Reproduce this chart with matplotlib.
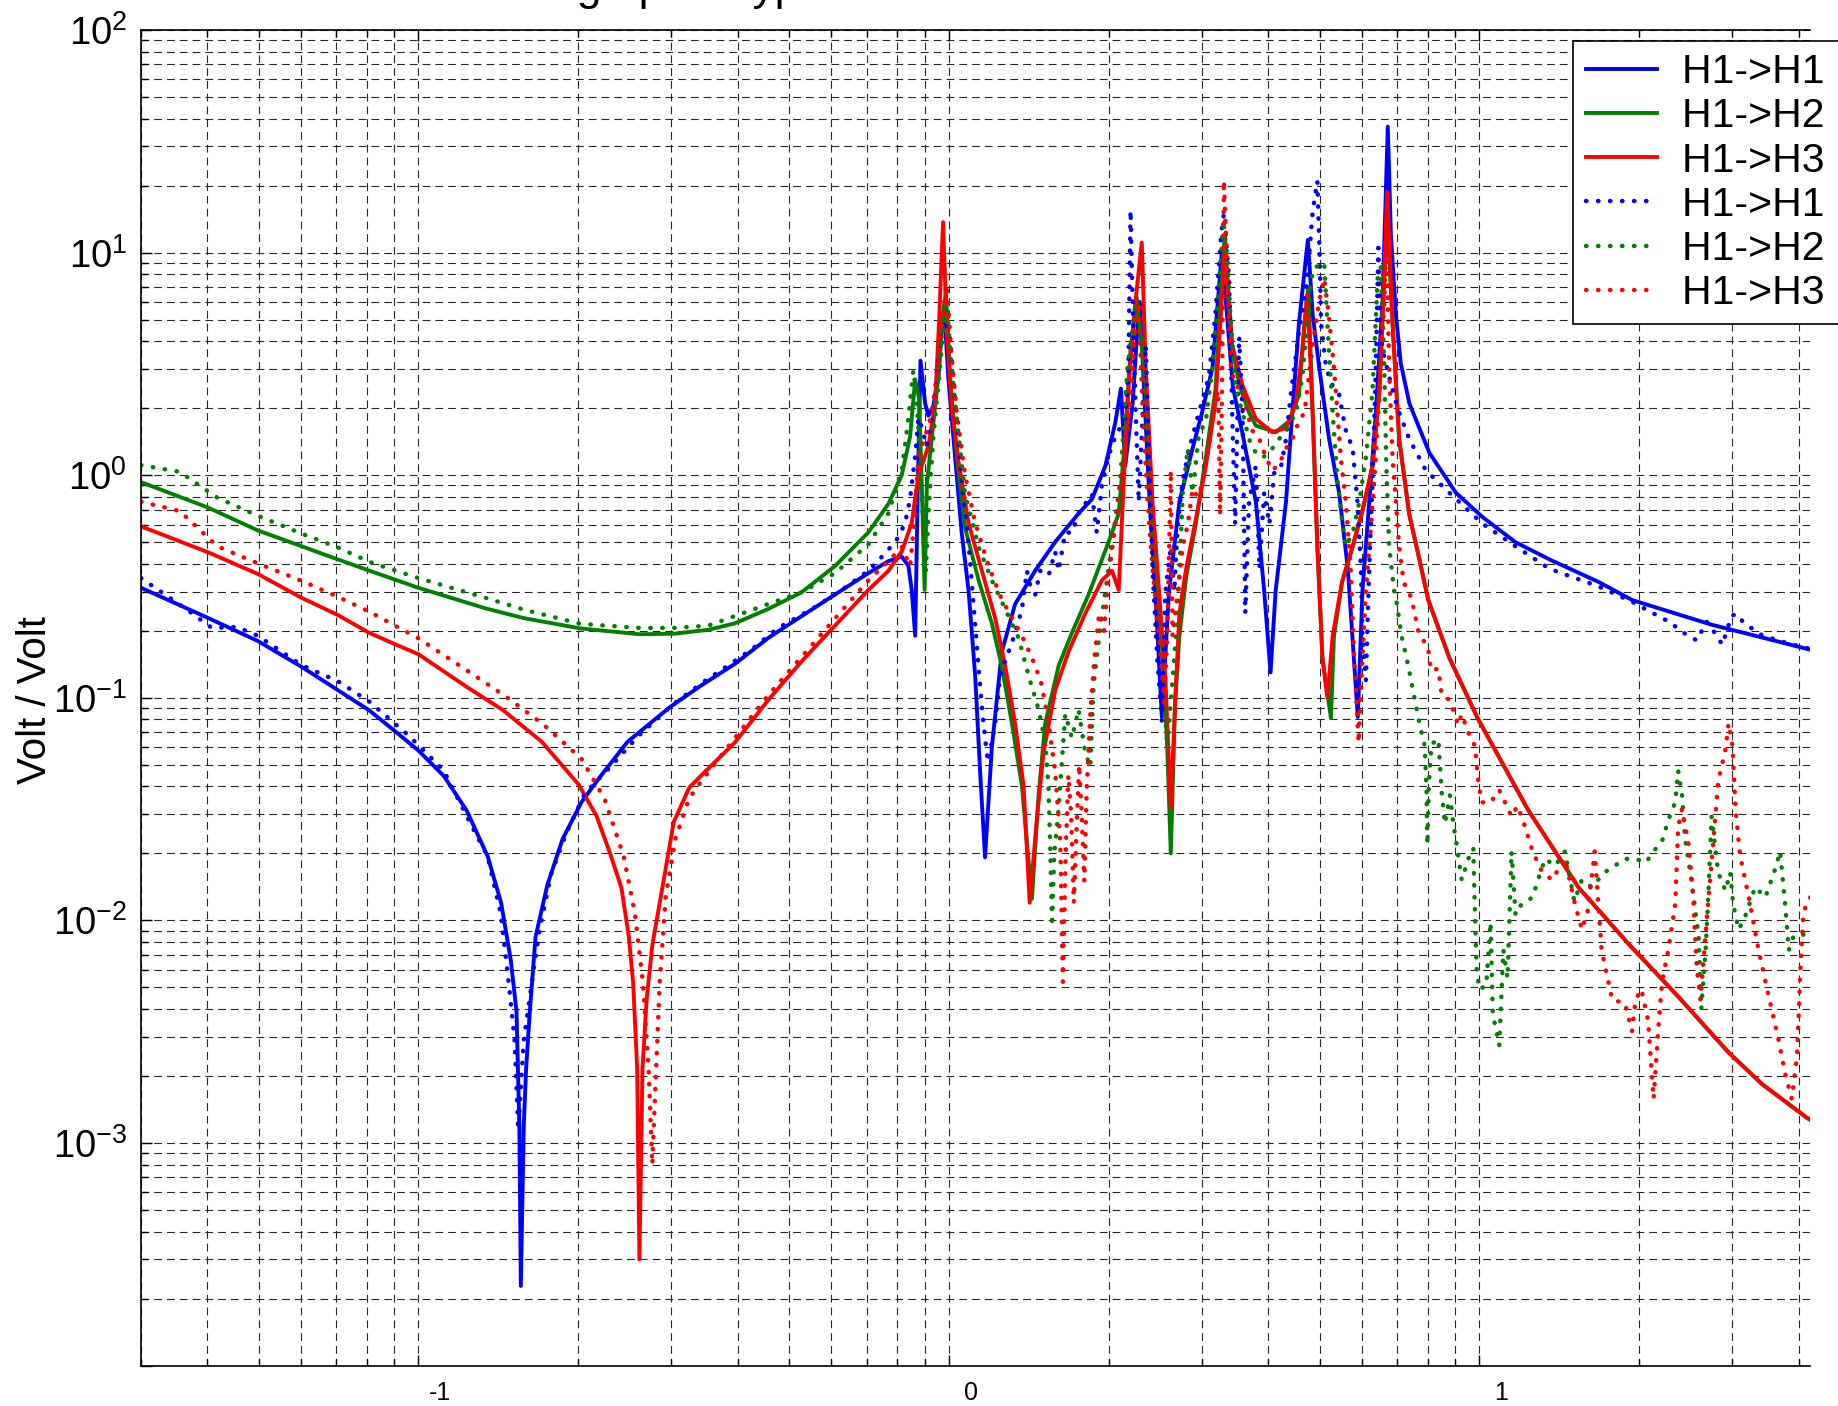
import matplotlib
matplotlib.use('Agg')
import matplotlib.pyplot as plt
from matplotlib.ticker import LogLocator, NullFormatter, FixedLocator, FixedFormatter
from matplotlib.transforms import ScaledTranslation

plt.rcParams['font.family'] = ['Liberation Sans', 'DejaVu Sans']
plt.rcParams['mathtext.fontset'] = 'custom'
plt.rcParams['mathtext.rm'] = 'Liberation Sans'

title = 'Transfer functions of 2 stage prototype from actuator H1 to horizontal interferometer sensors GS13'
labels = ['H1->H1', 'H1->H2', 'H1->H3', 'H1->H1', 'H1->H2', 'H1->H3']
x_tick_vals = [0.1, 1, 10]
x_tick_text = ['-1', '0', '1']
y_exponents = [-4, -3, -2, -1, 0, 1, 2]
y_tick_text = ['', r'$\mathregular{10^{-3}}$', r'$\mathregular{10^{-2}}$', r'$\mathregular{10^{-1}}$',
               r'$\mathregular{10^{0}}$', r'$\mathregular{10^{1}}$', r'$\mathregular{10^{2}}$']

# ---- model (solid) ----
f_h11_mod = [0.030, 0.0402, 0.0498, 0.0603, 0.0706, 0.0807, 0.0899, 0.100, 0.1117, 0.1233,
             0.1351, 0.1432, 0.1493, 0.1531, 0.1550, 0.1560, 0.1580, 0.1596, 0.1622, 0.1663,
             0.175, 0.187, 0.203, 0.2206, 0.248, 0.298, 0.342, 0.395, 0.457, 0.528,
             0.610, 0.705, 0.769, 0.815, 0.839, 0.851, 0.864, 0.874, 0.884, 0.902,
             0.915, 0.935, 0.956, 0.970, 0.980, 0.998, 1.027, 1.057, 1.089, 1.121,
             1.145, 1.170, 1.205, 1.258, 1.333, 1.454, 1.586, 1.756, 1.861, 1.972,
             2.059, 2.110, 2.150, 2.22, 2.27, 2.29, 2.39, 2.45, 2.52, 2.60,
             2.72, 2.88, 3.0, 3.14, 3.27, 3.43, 3.58, 3.79, 3.93, 4.04,
             4.13, 4.32, 4.44, 4.57, 4.75, 4.85, 4.99, 5.21, 5.44, 5.65,
             5.90, 6.02, 6.20, 6.38, 6.57, 6.72, 6.81, 6.96, 7.11, 7.38,
             8.05, 9.03, 10.15, 11.7, 13.6, 16.8, 19.4, 27.4, 41.4, 48.0]
m_h11_mod = [0.312, 0.228, 0.180, 0.1375, 0.108, 0.088, 0.0715, 0.058, 0.0445, 0.0312,
             0.0194, 0.0120, 0.00665, 0.0039, 0.00119, 0.000228, 0.0012, 0.00215, 0.0039, 0.00844,
             0.0144, 0.0232, 0.034, 0.0445, 0.0635, 0.0908, 0.114, 0.142, 0.186, 0.233,
             0.291, 0.363, 0.411, 0.431, 0.391, 0.305, 0.190, 0.906, 3.27, 2.10,
             1.85, 2.05, 2.82, 4.86, 5.6, 2.69, 1.22, 0.553, 0.305, 0.1256,
             0.0468, 0.0192, 0.0598, 0.1607, 0.2636, 0.372, 0.501, 0.673, 0.781, 1.10,
             1.72, 2.45, 1.10, 2.10, 4.8, 6.0, 0.76, 0.30, 0.082, 0.30,
             0.76, 1.32, 1.91, 3.04, 10.0, 2.5, 1.52, 0.76, 0.302, 0.13,
             0.302, 0.76, 1.91, 4.82, 11.4, 5.28, 3.04, 1.45, 0.834, 0.38,
             0.082, 0.302, 0.76, 1.91, 6.07, 36.8, 12.1, 5.28, 3.18, 2.10,
             1.26, 0.834, 0.647, 0.50, 0.417, 0.331, 0.275, 0.213, 0.166, 0.152]

f_h12_mod = [0.030, 0.0401, 0.0498, 0.0603, 0.0706, 0.0807, 0.100, 0.134, 0.158, 0.202,
             0.261, 0.303, 0.352, 0.395, 0.457, 0.528, 0.610, 0.705, 0.769, 0.815,
             0.845, 0.864, 0.879, 0.889, 0.900, 0.909, 0.929, 0.956, 0.977, 0.987,
             1.006, 1.035, 1.073, 1.138, 1.205, 1.258, 1.315, 1.373, 1.434, 1.476,
             1.519, 1.610, 1.706, 1.834, 2.00, 2.09, 2.15, 2.20, 2.26, 2.35,
             2.42, 2.53, 2.58, 2.62, 2.67, 2.72, 2.80, 2.92, 3.05, 3.18,
             3.31, 3.42, 3.53, 3.68, 3.79, 4.13, 4.38, 4.57, 4.68, 4.76,
             4.85, 4.95, 5.06, 5.25, 5.32, 5.51, 5.77, 6.02, 6.29, 6.48,
             6.59, 6.70]
m_h12_mod = [0.931, 0.716, 0.565, 0.479, 0.418, 0.373, 0.312, 0.252, 0.228, 0.205,
             0.193, 0.194, 0.202, 0.216, 0.251, 0.298, 0.391, 0.553, 0.743, 1.0,
             1.49, 2.69, 2.2, 0.906, 0.305, 0.906, 1.49, 2.82, 5.6, 6.5,
             2.69, 1.22, 0.58, 0.337, 0.216, 0.139, 0.0766, 0.0403, 0.0125, 0.0365,
             0.0766, 0.139, 0.196, 0.291, 0.501, 0.673, 1.49, 3.66, 6.3, 2.5,
             0.7, 0.151, 0.06, 0.020, 0.0955, 0.19, 0.347, 0.603, 1.2, 2.41,
             12.0, 3.8, 2.52, 1.91, 1.67, 1.56, 1.75, 2.3, 4.82, 7.0,
             1.91, 0.479, 0.151, 0.081, 0.19, 0.331, 0.479, 0.693, 1.1, 2.41,
             6.07, 15.0]

f_h13_mod = [0.030, 0.0401, 0.0498, 0.0603, 0.0706, 0.0807, 0.0899, 0.100, 0.1233, 0.1444,
             0.1708, 0.2006, 0.2167, 0.2298, 0.2414, 0.2493, 0.254, 0.2585, 0.261, 0.2645,
             0.2693, 0.276, 0.2877, 0.303, 0.324, 0.342, 0.395, 0.457, 0.528, 0.61,
             0.705, 0.769, 0.815, 0.851, 0.876, 0.915, 0.942, 0.959, 0.975, 0.991,
             1.013, 1.042, 1.089, 1.154, 1.223, 1.277, 1.333, 1.383, 1.42, 1.465,
             1.508, 1.586, 1.681, 1.807, 1.943, 2.03, 2.09, 2.135, 2.18, 2.246,
             2.31, 2.35, 2.42, 2.49, 2.56, 2.62, 2.67, 2.72, 2.80, 2.92,
             3.05, 3.18, 3.31, 3.42, 3.58, 3.79, 4.07, 4.32, 4.51, 4.64,
             4.74, 4.85, 4.95, 5.06, 5.17, 5.29, 5.51, 5.77, 6.02, 6.29,
             6.48, 6.59, 6.70]
m_h13_mod = [0.589, 0.451, 0.36, 0.281, 0.235, 0.196, 0.175, 0.157, 0.112, 0.088,
             0.0635, 0.0407, 0.0294, 0.020, 0.014, 0.00844, 0.00525, 0.00215, 0.0003, 0.00215,
             0.0044, 0.00772, 0.0136, 0.0277, 0.0395, 0.045, 0.063, 0.098, 0.146, 0.211,
             0.305, 0.372, 0.454, 0.61, 1.0, 1.35, 2.1, 5.1, 13.7, 4.4,
             2.0, 1.16, 0.61, 0.372, 0.227, 0.139, 0.0766, 0.0403, 0.012, 0.0285,
             0.0569, 0.108, 0.161, 0.239, 0.337, 0.372, 0.305, 0.906, 2.43, 5.93,
             11.1, 3.04, 0.76, 0.30, 0.12, 0.032, 0.0955, 0.24, 0.38, 0.63,
             1.1, 2.1, 10.0, 3.83, 2.52, 1.79, 1.56, 1.63, 2.1, 3.66,
             6.5, 1.91, 0.479, 0.151, 0.1, 0.19, 0.331, 0.479, 0.693, 1.1,
             2.41, 6.07, 18.7]

# shared high-frequency tail of the H2 / H3 model curves
f_tail = [6.86, 7.06, 7.38, 7.71, 8.01, 8.78, 9.95, 12.37, 15.4, 19.1, 23.7, 29.5, 34.1, 41.4, 48.0]
m_tail = [4.82, 1.45, 0.662, 0.417, 0.275, 0.151, 0.080, 0.0312, 0.014, 0.00785, 0.00455, 0.00255, 0.00184, 0.0013, 0.00105]

# ---- measurement (dotted) ----
f_h11_meas = [0.030, 0.0366, 0.0408, 0.0455, 0.0498, 0.0603, 0.0706, 0.0807, 0.096, 0.1116,
              0.1233, 0.135, 0.143, 0.148, 0.1518, 0.1543, 0.158, 0.1636, 0.169, 0.178,
              0.19, 0.206, 0.232, 0.26, 0.302, 0.346, 0.3756, 0.4246, 0.477, 0.551,
              0.628, 0.705, 0.764, 0.803, 0.827, 0.845, 0.864, 0.876, 0.889, 0.908,
              0.929, 0.949, 0.970, 0.984, 1.006, 1.035, 1.058, 1.089, 1.113, 1.137,
              1.162, 1.184, 1.205, 1.223, 1.249, 1.286, 1.324, 1.373, 1.403, 1.423,
              1.455, 1.486, 1.542, 1.586, 1.61, 1.657, 1.706, 1.756, 1.807, 1.861,
              1.90, 1.943, 2.0, 2.06, 2.15, 2.18, 2.20, 2.22, 2.25, 2.28,
              2.32, 2.35, 2.385, 2.42, 2.47, 2.52, 2.56, 2.62, 2.66, 2.70,
              2.76, 2.84, 2.96, 3.09, 3.18, 3.26, 3.30, 3.375, 3.42, 3.465,
              3.525, 3.578, 3.62, 3.68, 3.79, 3.85, 3.93, 4.02, 4.11, 4.23,
              4.32, 4.41, 4.57, 4.74, 4.85, 4.95, 5.0, 5.03, 5.14, 5.29,
              5.44, 5.60, 5.77, 5.89, 5.98, 6.02, 6.11, 6.20, 6.29, 6.38,
              6.45, 6.50, 6.57, 6.76, 7.01, 7.38, 7.93, 8.78, 10.15, 11.7,
              13.55, 16.8, 19.4, 21.1, 23.0, 23.9, 25.7, 26.8, 28.0, 28.7,
              29.9, 30.6, 31.5, 34.1, 37.2, 40.6, 45.0]
m_h11_meas = [0.345, 0.249, 0.206, 0.208, 0.19, 0.14, 0.1186, 0.0964, 0.0675, 0.0472,
              0.0294, 0.0194, 0.0107, 0.00525, 0.0029, 0.00115, 0.0029, 0.00525, 0.00895, 0.0162,
              0.0246, 0.0372, 0.050, 0.0675, 0.0935, 0.1186, 0.135, 0.165, 0.206, 0.25,
              0.305, 0.372, 0.454, 0.526, 0.61, 0.782, 1.22, 1.81, 1.64, 1.35,
              1.81, 2.82, 4.4, 5.0, 3.98, 1.81, 0.906, 0.50, 0.263, 0.139,
              0.0766, 0.0515, 0.063, 0.0766, 0.126, 0.153, 0.186, 0.25, 0.372, 0.321,
              0.291, 0.372, 0.355, 0.454, 0.372, 0.552, 0.552, 0.673, 0.743, 0.82,
              0.552, 0.906, 1.22, 1.49, 1.81, 3.0, 15.5, 6.07, 1.91, 0.76,
              1.91, 3.83, 1.2, 0.38, 0.151, 0.079, 0.30, 0.479, 0.30, 0.603,
              0.957, 1.32, 1.91, 2.77, 5.28, 12.1, 15.0, 7.65, 1.91, 0.603,
              4.2, 1.91, 0.24, 0.76, 1.1, 0.38, 0.834, 0.603, 1.05, 1.1,
              1.45, 2.3, 4.4, 7.65, 15.3, 21.0, 9.6, 4.82, 3.04, 2.52,
              2.3, 1.59, 1.32, 0.76, 0.38, 0.19, 0.12, 0.38, 0.957, 3.04,
              10.5, 4.82, 3.66, 2.77, 2.0, 1.45, 1.05, 0.834, 0.604, 0.479,
              0.38, 0.316, 0.27, 0.242, 0.217, 0.2, 0.181, 0.22, 0.191, 0.173,
              0.234, 0.238, 0.217, 0.191, 0.179, 0.169, 0.16]

f_h12_meas = [0.030, 0.0355, 0.0418, 0.0494, 0.0603, 0.0706, 0.0813, 0.1, 0.134, 0.158,
              0.202, 0.261, 0.303, 0.352, 0.395, 0.457, 0.528, 0.61, 0.705, 0.769,
              0.815, 0.839, 0.857, 0.87, 0.883, 0.896, 0.905, 0.915, 0.935, 0.959,
              0.981, 0.991, 1.01, 1.035, 1.073, 1.138, 1.205, 1.277, 1.353, 1.413,
              1.476, 1.519, 1.54, 1.552, 1.565, 1.58, 1.61, 1.657, 1.706, 1.756,
              1.807, 1.847, 1.874, 1.929, 1.986, 2.044, 2.104, 2.17, 2.25, 2.32,
              2.37, 2.42, 2.47, 2.545, 2.58, 2.64, 2.70, 2.76, 2.82, 2.88,
              2.96, 3.05, 3.14, 3.23, 3.29, 3.35, 3.40, 3.475, 3.58, 3.68,
              3.79, 3.90, 4.02, 4.13, 4.32, 4.51, 4.64, 4.74, 4.85, 4.99,
              5.1, 5.17, 5.29, 5.40, 5.52, 5.60, 5.77, 5.94, 6.11, 6.29,
              6.43, 6.52, 6.62, 6.67, 6.76, 6.91, 6.98, 7.13, 7.34, 7.55,
              7.72, 7.89, 7.95, 7.98, 8.03, 8.12, 8.37, 8.49, 8.61, 8.80,
              8.93, 9.06, 9.26, 9.53, 9.74, 9.81, 9.88, 10.0, 10.3, 10.5,
              10.6, 10.9, 11.1, 11.3, 11.5, 11.7, 12.0, 12.6, 12.9, 13.3,
              13.9, 14.5, 15.1, 15.6, 16.3, 17.2, 18.0, 18.8, 19.7, 20.6,
              21.4, 22.1, 22.7, 23.4, 23.7, 24.1, 24.4, 25.1, 25.9, 26.2,
              26.7, 27.0, 27.4, 28.2, 29.1, 29.7, 30.1, 30.8, 31.6, 33.1,
              34.6, 36.1, 36.9, 37.7, 38.3, 39.1, 40.3, 41.4, 45.0]
m_h12_meas = [1.11, 1.035, 0.792, 0.663, 0.546, 0.473, 0.406, 0.345, 0.281, 0.249,
              0.215, 0.206, 0.206, 0.211, 0.233, 0.264, 0.298, 0.363, 0.489, 0.673,
              1.05, 1.81, 2.96, 2.2, 1.16, 0.552, 0.372, 0.673, 1.49, 2.82,
              5.1, 5.93, 3.12, 1.81, 0.82, 0.476, 0.337, 0.25, 0.186, 0.126,
              0.0888, 0.063, 0.0403, 0.0223, 0.0094, 0.02, 0.0317, 0.0845, 0.066, 0.0888,
              0.0569, 0.049, 0.114, 0.206, 0.337, 0.552, 0.95, 3.0, 6.0, 3.04,
              0.957, 0.479, 0.24, 0.105, 0.060, 0.12, 0.24, 0.834, 1.32, 0.834,
              1.52, 1.75, 3.04, 6.98, 14.0, 9.6, 4.82, 2.41, 1.91, 1.45,
              1.26, 1.2, 1.26, 1.39, 1.59, 1.91, 2.77, 4.82, 8.4, 8.8,
              9.0, 4.82, 1.91, 0.957, 0.603, 0.479, 0.55, 0.76, 1.2, 2.41,
              7.65, 8.6, 3.04, 1.2, 0.479, 0.30, 0.27, 0.191, 0.14, 0.099,
              0.0755, 0.0607, 0.0378, 0.0219, 0.04, 0.0618, 0.0653, 0.0378, 0.0272, 0.0365,
              0.0272, 0.0219, 0.0152, 0.0189, 0.0211, 0.0106, 0.0061, 0.0049, 0.0051, 0.0098,
              0.0038, 0.00274, 0.00735, 0.0055, 0.0204, 0.0106, 0.0118, 0.0127, 0.0152, 0.0189,
              0.0176, 0.0204, 0.0122, 0.0152, 0.0141, 0.0164, 0.0176, 0.0189, 0.0189, 0.0182,
              0.0207, 0.0227, 0.0282, 0.0339, 0.047, 0.0365, 0.0236, 0.0152, 0.0085, 0.004,
              0.00735, 0.0127, 0.0293, 0.0164, 0.0136, 0.0164, 0.0118, 0.0091, 0.0102, 0.0141,
              0.0127, 0.017, 0.0204, 0.0118, 0.00735, 0.0085, 0.0085, 0.0088, 0.009]

f_h13_meas = [0.030, 0.0355, 0.0418, 0.0494, 0.0603, 0.0706, 0.0813, 0.1, 0.1233, 0.1456,
              0.172, 0.203, 0.2244, 0.2438, 0.256, 0.265, 0.2716, 0.276, 0.2806, 0.285,
              0.2926, 0.305, 0.3235, 0.342, 0.395, 0.457, 0.528, 0.61, 0.705, 0.769,
              0.815, 0.845, 0.864, 0.876, 0.902, 0.929, 0.956, 0.977, 0.991, 1.01,
              1.035, 1.073, 1.121, 1.188, 1.258, 1.333, 1.393, 1.455, 1.497, 1.542,
              1.586, 1.622, 1.64, 1.66, 1.68, 1.70, 1.72, 1.74, 1.76, 1.78,
              1.80, 1.82, 1.85, 1.88, 1.92, 1.96, 2.0, 2.06, 2.12, 2.19,
              2.25, 2.28, 2.32, 2.37, 2.42, 2.49, 2.545, 2.58, 2.62, 2.64,
              2.70, 2.76, 2.82, 2.88, 2.94, 3.0, 3.09, 3.16, 3.22, 3.245,
              3.27, 3.30, 3.35, 3.40, 3.475, 3.58, 3.65, 3.73, 3.85, 3.96,
              4.07, 4.2, 4.32, 4.44, 4.57, 4.68, 4.85, 4.99, 5.1, 5.2,
              5.32, 5.40, 5.48, 5.60, 5.72, 5.81, 5.92, 6.02, 6.11, 6.25,
              6.38, 6.52, 6.62, 6.68, 6.76, 6.86, 6.96, 7.06, 7.2, 7.45,
              7.67, 8.01, 8.1, 8.37, 8.49, 8.80, 9.12, 9.26, 9.53, 9.81,
              9.95, 10.1, 10.5, 10.9, 11.5, 11.8, 12.2, 12.6, 13.1, 13.7,
              14.1, 14.5, 15.1, 15.6, 16.0, 16.5, 16.7, 17.0, 17.8, 18.8,
              19.4, 19.7, 20.2, 20.8, 21.3, 21.8, 22.1, 22.7, 23.4, 23.7,
              24.1, 24.8, 25.3, 25.7, 26.1, 26.7, 27.4, 28.2, 29.1, 29.5,
              30.0, 30.4, 31.0, 32.2, 33.6, 35.1, 36.6, 37.7, 38.8, 39.7,
              40.3, 40.8, 41.4, 45.0]
m_h13_meas = [0.76, 0.69, 0.479, 0.405, 0.335, 0.284, 0.242, 0.185, 0.133, 0.102,
              0.0759, 0.0532, 0.0351, 0.0194, 0.0107, 0.00525, 0.00215, 0.0008, 0.00215, 0.00525,
              0.0128, 0.0232, 0.0351, 0.0424, 0.066, 0.103, 0.153, 0.227, 0.337, 0.411,
              0.476, 0.391, 0.673, 1.22, 1.49, 1.9, 3.12, 5.64, 7.2, 3.61,
              1.9, 1.0, 0.61, 0.391, 0.277, 0.216, 0.177, 0.139, 0.114, 0.0766,
              0.0468, 0.0223, 0.0053, 0.02, 0.045, 0.03, 0.012, 0.025, 0.05, 0.03,
              0.015, 0.04, 0.09, 0.15, 0.24, 0.2, 0.35, 0.603, 1.05, 1.91,
              4.8, 6.0, 1.91, 0.76, 0.38, 0.19, 0.0955, 0.19, 1.05, 0.19,
              0.30, 0.48, 0.6, 0.87, 0.8, 0.9, 1.32, 2.1, 2.4, 0.66,
              2.0, 21.1, 7.65, 3.04, 2.52, 2.4, 1.91, 1.59, 1.45, 1.2,
              1.05, 1.13, 1.32, 1.45, 1.75, 1.91, 3.83, 6.07, 7.65, 5.28,
              3.04, 1.91, 1.2, 0.76, 0.38, 0.151, 0.0628, 0.151, 0.30, 0.60,
              1.2, 3.04, 6.07, 12.0, 3.04, 1.2, 0.76, 0.48, 0.33, 0.28,
              0.20, 0.165, 0.133, 0.135, 0.103, 0.0975, 0.0755, 0.0843, 0.070, 0.0607,
              0.0422, 0.0339, 0.0339, 0.0385, 0.0293, 0.0327, 0.0263, 0.0204, 0.0167, 0.0152,
              0.017, 0.0189, 0.0122, 0.0091, 0.011, 0.0204, 0.0136, 0.00735, 0.0044, 0.00425,
              0.00318, 0.0044, 0.0049, 0.00355, 0.00158, 0.00355, 0.0053, 0.00735, 0.0118, 0.0263,
              0.0316, 0.0219, 0.0127, 0.0061, 0.0044, 0.0088, 0.0182, 0.0422, 0.0585, 0.0769,
              0.0607, 0.0316, 0.0196, 0.0127, 0.00735, 0.00457, 0.00295, 0.00205, 0.00158, 0.00245,
              0.0061, 0.0106, 0.012, 0.016]

# ---------------------------------------------------------------
W, H = 1838, 1406
fig = plt.figure(figsize=(W / 100, H / 100), dpi=100)
ax_l, ax_r, ax_t, ax_b = 141, 1810, 30, 1365.6
ax = fig.add_axes([ax_l / W, 1 - ax_b / H, (ax_r - ax_l) / W, (ax_b - ax_t) / H])

solid_lw = 2.8
dot_lw = 3.2
dots = (0, (0.1, 2.6))
# trailing space widens the legend's right margin so the box edge falls off the figure
leg_labels = [s + ' ' for s in labels]

ax.plot(f_h11_mod, m_h11_mod, color='b', lw=solid_lw, label=leg_labels[0])
ax.plot(f_h12_mod + f_tail, m_h12_mod + m_tail, color=(0, 0.5, 0), lw=solid_lw, label=leg_labels[1])
ax.plot(f_h13_mod + f_tail, m_h13_mod + m_tail, color='r', lw=solid_lw, label=leg_labels[2])
ax.plot(f_h11_meas, m_h11_meas, color='b', lw=dot_lw, ls=dots, dash_capstyle='round', label=leg_labels[3])
ax.plot(f_h12_meas, m_h12_meas, color=(0, 0.5, 0), lw=dot_lw, ls=dots, dash_capstyle='round', label=leg_labels[4])
ax.plot(f_h13_meas, m_h13_meas, color='r', lw=dot_lw, ls=dots, dash_capstyle='round', label=leg_labels[5])

ax.set_xscale('log')
ax.set_yscale('log')
ax.set_xlim(0.03, 42)
ax.set_ylim(1e-4, 1e2)

ax.grid(True, which='both', color='0.15', lw=0.8, ls=(0, (7, 4.5)))
ax.set_axisbelow(True)

ax.xaxis.set_major_locator(FixedLocator(x_tick_vals))
ax.xaxis.set_major_formatter(FixedFormatter(x_tick_text))
ax.xaxis.set_minor_locator(LogLocator(base=10, subs=range(2, 10), numticks=20))
ax.xaxis.set_minor_formatter(NullFormatter())
ax.yaxis.set_major_locator(FixedLocator([10.0 ** e for e in y_exponents]))
ax.yaxis.set_major_formatter(FixedFormatter(y_tick_text))
ax.yaxis.set_minor_locator(LogLocator(base=10, subs=range(2, 10), numticks=20))
ax.yaxis.set_minor_formatter(NullFormatter())

ax.tick_params(which='both', direction='in', top=True, right=False, width=1)
ax.tick_params(which='major', length=8)
ax.tick_params(which='minor', length=5)
ax.tick_params(axis='y', labelsize=27.5, pad=10)
ax.tick_params(axis='x', labelsize=18, pad=11)
for lab in ax.get_xticklabels():
    lab.set_transform(lab.get_transform() + ScaledTranslation(0.22, 0, fig.dpi_scale_trans))
ax.spines['right'].set_visible(False)
for s in ['top', 'bottom', 'left']:
    ax.spines[s].set_linewidth(1.2)

fig.text(35 / W, 0.502, 'Volt / Volt', rotation=90, fontsize=29, ha='center', va='center')
# the title sits almost entirely above the top edge, as in the source image
fig.text(64 / W, 1.0, title, fontsize=32, ha='left', va='baseline')

leg = ax.legend(loc='upper right', bbox_to_anchor=((1848 - ax_l) / (ax_r - ax_l), (ax_b - 41) / (ax_b - ax_t)),
                borderaxespad=0, fontsize=29.5, handlelength=1.75, handletextpad=0.6,
                labelspacing=0.15, borderpad=0.3, fancybox=False, framealpha=1, edgecolor='k')
leg.get_frame().set_linewidth(1.2)

fig.savefig('out.png', dpi=100)
